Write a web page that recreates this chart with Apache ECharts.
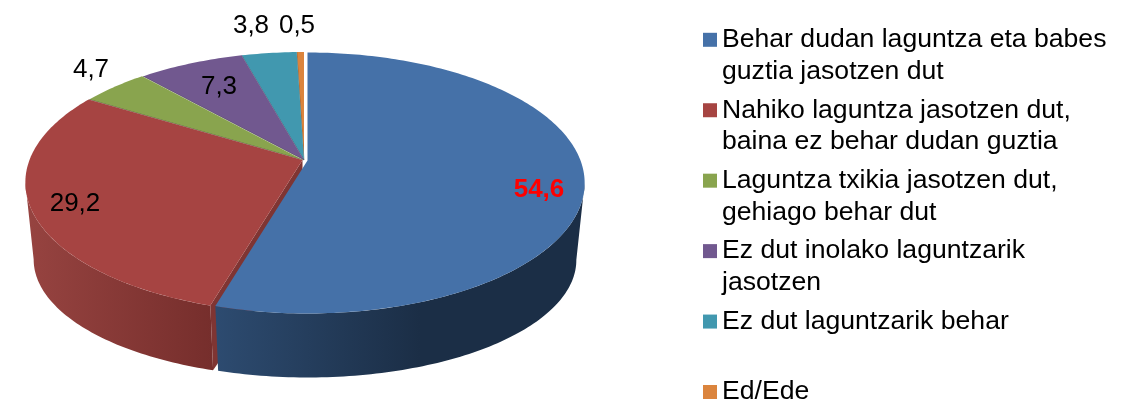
<!DOCTYPE html>
<html lang="eu">
<head>
	<meta charset="UTF-8">
	<title>Laguntza</title>
	<style type="text/css">
	html, body { margin: 0; background: #fff; }
	#chart { width: 1132px; height: 400px; }
	</style>
</head>
<body>
	<div id="chart"></div>
	<script type="text/javascript" src="https://cdn.jsdelivr.net/npm/echarts@6/dist/echarts.min.js"></script>
	<script type="text/javascript">
		var categories = [
			'Behar dudan laguntza eta babes\nguztia jasotzen dut',
			'Nahiko laguntza jasotzen dut,\nbaina ez behar dudan guztia',
			'Laguntza txikia jasotzen dut,\ngehiago behar dut',
			'Ez dut inolako laguntzarik\njasotzen',
			'Ez dut laguntzarik behar',
			'Ed/Ede'
		];
		var values = [54.6, 29.2, 4.7, 7.3, 3.8, 0.5];
		var valueLabels = ['54,6', '29,2', '4,7', '7,3', '3,8', '0,5'];
		var colors = ['#4571a8', '#a64442', '#89a44e', '#71588f', '#4198af', '#db843d'];

		// where each label sits, and how the slices are pulled apart
		var labelPos = [[539, 190], [75, 204], [91, 70], [219, 87], [251, 26], [297, 26]];
		var sliceOffset = [[2.5, 0.5], [-2.5, 0], [-2, 0], [-1, 0], [-1, 0], [-1, 0]];

		// projected pie: perspective makes the near half look bigger
		var cx = 305, cy = 160, rx = 273, ry = 126.6, k = -0.1724;
		var depthY = 79.3, bottomX = 0.97, bottomY = 0.9;
		var total = values.reduce(function (a, b) { return a + b; }, 0);
		var FRONT_R = 99.9, FRONT_L = 260.1;

		function pt (deg, r, off, low) {
			var a = deg * Math.PI / 180;
			var u = Math.sin(a) * r, v = Math.cos(a) * r;
			var w = 1 - k * v;
			var sx = low ? bottomX : 1, sy = low ? bottomY : 1;
			return [
				cx + off[0] + rx * sx * u / w,
				cy + off[1] + (low ? depthY : 0) - ry * sy * v / w
			];
		}

		function arc (from, to, off, low) {
			var out = [], n = Math.max(2, Math.ceil(Math.abs(to - from)));
			for (var i = 0; i <= n; i++) {
				out.push(pt(from + (to - from) * i / n, 1, off, low));
			}
			return out;
		}

		function linear (x1, x2, c1, c2) {
			return {
				type: 'linear', x: x1, y: 0, x2: x2, y2: 0, global: true,
				colorStops: [{ offset: 0, color: c1 }, { offset: 1, color: c2 }]
			};
		}

		var wallFill = [
			linear(215, 420, '#2d4b70', '#1b2e46'),
			linear(30, 212, '#964340', '#762e2c')
		];

		function renderSlice (params, api) {
			var i = params.seriesIndex;
			var start = 0;
			for (var j = 0; j < i; j++) start += values[j];
			var a0 = start / total * 360;
			var a1 = (start + api.value(0)) / total * 360;
			var off = sliceOffset[i];
			var children = [];

			// outer wall, only the part facing us
			var w0 = Math.max(a0, FRONT_R), w1 = Math.min(a1, FRONT_L);
			if (w1 > w0) {
				children.push({
					type: 'polygon',
					shape: { points: arc(w0, w1, off, false).concat(arc(w1, w0, off, true)) },
					style: { fill: wallFill[i] }
				});
			}

			// red slice shows its cut face next to the blue one
			if (i === 1) {
				var apex = pt(0, 0, off, false), apexLow = pt(0, 0, off, true);
				children.push({
					type: 'polygon',
					shape: { points: [apex, pt(a0, 1, off, false), pt(a0, 1, off, true), apexLow] },
					style: { fill: '#7f3533' }
				});
			}

			// top face
			var top = arc(a0, a1, off, false);
			top.unshift(pt(0, 0, off, false));
			children.push({
				type: 'polygon',
				shape: { points: top },
				style: { fill: colors[i] }
			});

			// thin dark seam between the small slices
			if (i > 1) {
				children.push({
					type: 'line',
					shape: {
						x1: pt(0, 0, off, false)[0], y1: pt(0, 0, off, false)[1],
						x2: pt(a0, 1, off, false)[0], y2: pt(a0, 1, off, false)[1]
					},
					style: { stroke: 'rgba(30,30,30,0.45)', lineWidth: 0.8 }
				});
			}

			children.push({
				type: 'text',
				z2: 10,
				style: {
					text: valueLabels[i],
					x: labelPos[i][0],
					y: labelPos[i][1],
					align: 'center',
					verticalAlign: 'middle',
					fill: i === 0 ? '#ff0000' : '#000',
					fontFamily: 'Liberation Sans',
					fontSize: 26,
					fontWeight: i === 0 ? 'bold' : 'normal'
				}
			});

			return { type: 'group', children: children };
		}

		var chart = echarts.init(document.getElementById('chart'));
		var option = {
			animation: false,
			backgroundColor: '#fff',
			legend: {
				orient: 'vertical',
				left: 703,
				top: -7.75,
				height: 1000,
				padding: 0,
				itemWidth: 14,
				itemHeight: 14,
				itemGap: -24.66,
				selectedMode: false,
				icon: 'rect',
				data: categories,
				// blank first line keeps the marker level with the first text line
				formatter: function (name) {
					return name.indexOf('\n') > -1 ? ' \n' + name : ' \n' + name + '\n ';
				},
				textStyle: {
					color: '#000',
					fontFamily: 'Liberation Sans',
					fontSize: 26.6,
					lineHeight: 31.7
				}
			},
			series: categories.map(function (name, i) {
				return {
					type: 'custom',
					name: name,
					coordinateSystem: 'none',
					// blue has to sit on top of the red cut face
					z: 10 - i,
					silent: true,
					itemStyle: { color: colors[i] },
					renderItem: renderSlice,
					data: [[values[i]]]
				};
			})
		};
		chart.setOption(option);
	</script>
</body>
</html>
